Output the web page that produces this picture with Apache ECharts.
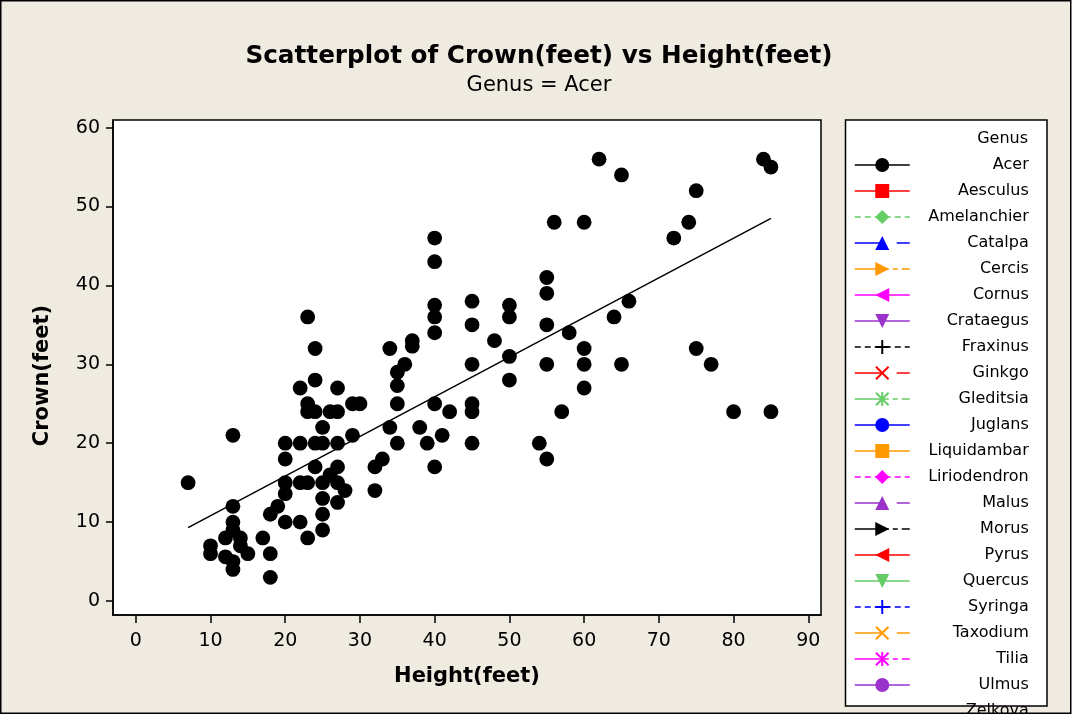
<!DOCTYPE html>
<html>
<head>
<meta charset="utf-8">
<script src="https://cdn.jsdelivr.net/npm/echarts@6/dist/echarts.min.js"></script>
<style>html,body{margin:0;padding:0;background:#fff}#c{width:1078px;height:719px}</style>
</head>
<body>
<div id="c"></div>
<script>
// ---- data ----
const heightFt = [7,10,10,12,12,13,13,13,13,13,13,14,14,15,17,18,18,18,19,20,20,20,20,20,
  22,22,22,22,23,23,23,23,23,24,24,24,24,24,25,25,25,25,25,25,26,26,27,27,27,27,27,27,28,29,29,30,
  32,32,33,34,34,35,35,35,35,36,37,37,38,39,40,40,40,40,40,40,40,41,42,45,45,45,45,45,45,48,
  50,50,50,50,54,55,55,55,55,55,56,57,58,60,60,60,60,62,64,65,65,66,72,74,75,75,77,80,84,85,85];
const crownFt = [15,7,6,8,5.6,21,12,10,9,5,4,8,7,6,8,11,6,3,12,20,18,15,13.6,10,
  27,20,15,10,36,25,24,15,8,32,28,24,20,17,22,20,15,13,11,9,24,16,27,24,20,17,15,12.5,14,25,21,25,
  17,14,18,32,22,29,27.3,25,20,30,33,32.3,22,20,46,43,37.5,36,34,25,17,21,24,38,35,30,25,24,20,33,
  37.5,36,31,28,20,41,39,35,30,18,48,24,34,48,32,30,27,56,36,54,30,38,46,48,52,32,30,24,56,55,24];
const fitHeight = [7, 85];
const fitCrown = [9.3, 48.5];
const genera = ['Acer','Aesculus','Amelanchier','Catalpa','Cercis','Cornus','Crataegus','Fraxinus',
  'Ginkgo','Gleditsia','Juglans','Liquidambar','Liriodendron','Malus','Morus','Pyrus','Quercus',
  'Syringa','Taxodium','Tilia','Ulmus','Zelkova'];
const xTicks = [0,10,20,30,40,50,60,70,80,90];
const yTicks = [0,10,20,30,40,50,60];
const titleText = 'Scatterplot of Crown(feet) vs Height(feet)';
const subText = 'Genus = Acer';

// ---- styles ----
const FONT = 'DejaVu Sans';
const colorCycle = ['#000000','#FF0000','#66CC66','#0000FF','#FF9900','#FF00FF','#9933CC'];
const P_TR = 'path://M0,0L10,5L0,10Z';
const P_TL = 'path://M10,0L0,5L10,10Z';
const P_TD = 'path://M0,0L10,0L5,10Z';
const P_PLUS = 'path://M4.3,0H5.7V10H4.3Z M0,4.3H10V5.7H0Z';
const P_X = 'path://M1,0L5,4L9,0L10,1L6,5L10,9L9,10L5,6L1,10L0,9L4,5L0,1Z';
const P_AST = 'path://M1,0L5,4L9,0L10,1L6,5L10,9L9,10L5,6L1,10L0,9L4,5L0,1Z M4.3,0H5.7V10H4.3Z';
const symbolCycle = ['circle','rect','diamond','triangle',P_TR,P_TL,P_TD,P_PLUS,P_X,P_AST];
const SOLID = 'solid', DASH = [6,4], LONG = [28,14], MIX = [34,4,5,4];
const lineTypes = [SOLID,SOLID,DASH,LONG,MIX,SOLID,SOLID,DASH,LONG,MIX,SOLID,SOLID,DASH,LONG,MIX,
  SOLID,SOLID,DASH,LONG,MIX,SOLID,SOLID];

const acerPts = heightFt.map((h, i) => [h, crownFt[i]]);
const fitPts = fitHeight.map((h, i) => [h, fitCrown[i]]);

const series = genera.map((g, i) => ({
  name: g,
  type: 'line',
  data: i === 0 ? acerPts : [],
  symbol: symbolCycle[i % symbolCycle.length],
  symbolSize: 14.8,
  itemStyle: { color: colorCycle[i % colorCycle.length], borderWidth: 0 },
  lineStyle: { width: i === 0 ? 0 : 1.5, type: lineTypes[i], color: colorCycle[i % colorCycle.length] },
  emphasis: { disabled: true },
  silent: true,
  z: 3
}));
series.push({
  name: 'fit', type: 'line', data: fitPts, showSymbol: false, symbol: 'none',
  lineStyle: { color: '#000', width: 1.5 }, emphasis: { disabled: true }, silent: true, z: 2
});

const legendData = genera.map((g, i) => {
  const d = { name: g };
  if (g === 'Zelkova') { d.itemStyle = { opacity: 0 }; d.lineStyle = { opacity: 0 }; }
  return d;
});

const chart = echarts.init(document.getElementById('c'), null, { renderer: 'canvas' });
chart.setOption({
  animation: false,
  backgroundColor: '#ffffff',
  textStyle: { fontFamily: FONT },
  graphic: [
    { type: 'rect', z: -100, shape: { x: 0.75, y: 0.75, width: 1070, height: 712.5 },
      style: { fill: '#EFEBE1', stroke: '#000', lineWidth: 1.5 } },
    { type: 'rect', z: -50, shape: { x: 845.5, y: 120, width: 201.5, height: 586 },
      style: { fill: '#fff', stroke: '#000', lineWidth: 1.5 } },
    { type: 'rect', z: 100, shape: { x: 0, y: 714, width: 1078, height: 5 },
      style: { fill: '#fff' } },
    { type: 'rect', z: 100, shape: { x: 1072, y: 0, width: 6, height: 719 },
      style: { fill: '#fff' } }
  ],
  title: [
    { text: titleText, subtext: subText, left: 534, textAlign: 'center', top: 39, itemGap: 6,
      textStyle: { fontFamily: FONT, fontSize: 24.7, fontWeight: 'bold', color: '#000' },
      subtextStyle: { fontFamily: FONT, fontSize: 21, color: '#000' } },
    { text: 'Genus', right: 50, top: 131, padding: 0,
      textStyle: { fontFamily: FONT, fontSize: 16, fontWeight: 'normal', color: '#000' } }
  ],
  grid: { left: 113, top: 120, width: 708, height: 495, show: true, backgroundColor: '#fff',
    borderColor: '#000', borderWidth: 1.5, containLabel: false },
  xAxis: {
    type: 'value', min: -3.05, max: 91.7,
    name: 'Height(feet)', nameLocation: 'middle', nameGap: 51,
    nameTextStyle: { fontFamily: FONT, fontSize: 21, fontWeight: 'bold', color: '#000' },
    axisLine: { show: true, onZero: false, lineStyle: { color: '#000', width: 1.5 } },
    axisTick: { show: true, inside: false, length: 8, customValues: xTicks, lineStyle: { color: '#000', width: 1.5 } },
    axisLabel: { customValues: xTicks, margin: 17, fontFamily: FONT, fontSize: 19, color: '#000' },
    splitLine: { show: false }
  },
  yAxis: {
    type: 'value', min: -1.77, max: 60.96,
    name: 'Crown(feet)', nameLocation: 'middle', nameGap: 60,
    nameTextStyle: { fontFamily: FONT, fontSize: 21, fontWeight: 'bold', color: '#000', padding: [0, 16, 0, 0] },
    axisLine: { show: true, onZero: false, lineStyle: { color: '#000', width: 1.5 } },
    axisTick: { show: true, inside: false, length: 7, customValues: yTicks, lineStyle: { color: '#000', width: 1.5 } },
    axisLabel: { customValues: yTicks, margin: 13, fontFamily: FONT, fontSize: 19, color: '#000' },
    splitLine: { show: false }
  },
  legend: {
    show: true, orient: 'vertical', left: 854, top: 157, height: 600, padding: 0,
    itemWidth: 55, itemHeight: 17.5, itemGap: 10,
    data: legendData,
    selectedMode: false,
    lineStyle: { width: 1.5 },
    formatter: n => '{r|' + n + '}',
    textStyle: { fontFamily: FONT, fontSize: 16, color: '#000',
      rich: { r: { width: 114, align: 'right', fontFamily: FONT, fontSize: 16, color: '#000' } } }
  },
  series: series
});
</script>
</body>
</html>
